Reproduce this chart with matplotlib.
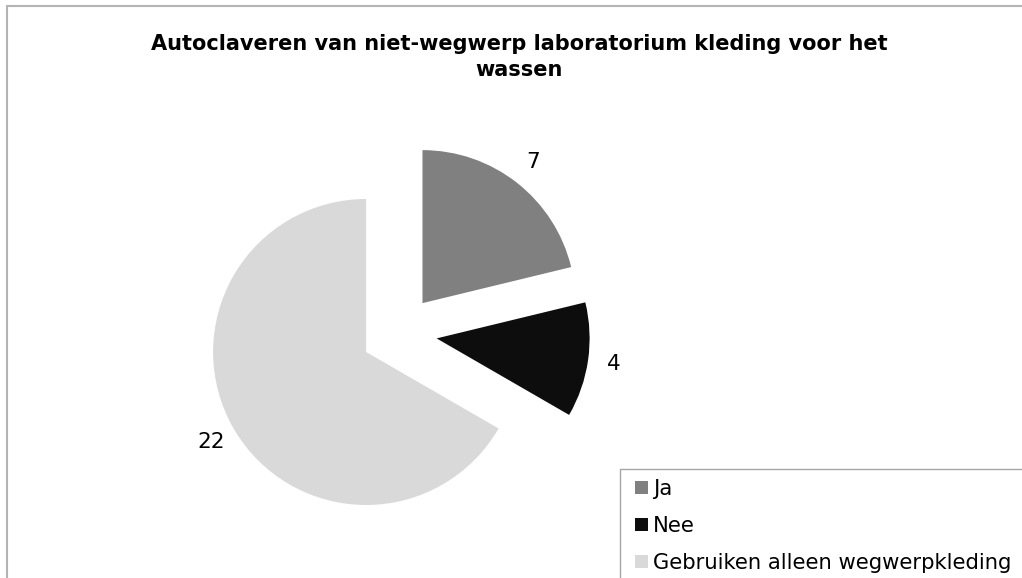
import matplotlib.pyplot as plt
from matplotlib.patches import Rectangle

categories = ['Ja', 'Nee', 'Gebruiken alleen wegwerpkleding']
values = [7, 4, 22]
colors = ['#808080', '#0d0d0d', '#d9d9d9']
title = 'Autoclaveren van niet-wegwerp laboratorium kleding voor het\nwassen'

W, H = 1022, 578
fig = plt.figure(figsize=(W / 100, H / 100), dpi=100)
plt.rcParams['font.family'] = ['DejaVu Sans']

# chart border (runs off the right and bottom edges)
fig.patches.append(Rectangle((7 / W, -0.1), 1.2, 1.1 - 6.5 / H, transform=fig.transFigure,
                             fill=False, edgecolor='#b4b4b4', linewidth=1.5))

ax = fig.add_axes([0, 0, 1, 1])
total = sum(values)
wedges, texts, autotexts = ax.pie(
    values, colors=colors, startangle=90, counterclock=False,
    center=(399, H - 333), radius=153, explode=[38] * len(values),
    autopct=lambda p: f'{round(p * total / 100)}', pctdistance=1.17,
    textprops={'fontsize': 15.5, 'color': '#000000'})
ax.set_xlim(0, W)
ax.set_ylim(0, H)
ax.set_aspect('equal')
ax.axis('off')

fig.text(519 / W, 1 - 57 / H, title, ha='center', va='center', fontsize=15,
         fontweight='bold', linespacing=1.35)

# legend box (also runs off the edges)
fig.patches.append(Rectangle((620 / W, -0.1), 1.0, 0.1 + 1 - 469 / H, transform=fig.transFigure,
                             fill=False, edgecolor='#a6a6a6', linewidth=1))
leg = fig.legend(wedges, categories, loc='upper left', bbox_to_anchor=(635 / W, 1 - 479 / H),
                 frameon=False, fontsize=15.2, handlelength=0.6, handleheight=0.6,
                 handletextpad=0.25, labelspacing=0.81, borderaxespad=0, borderpad=0)

fig.savefig('out.png', dpi=100)
